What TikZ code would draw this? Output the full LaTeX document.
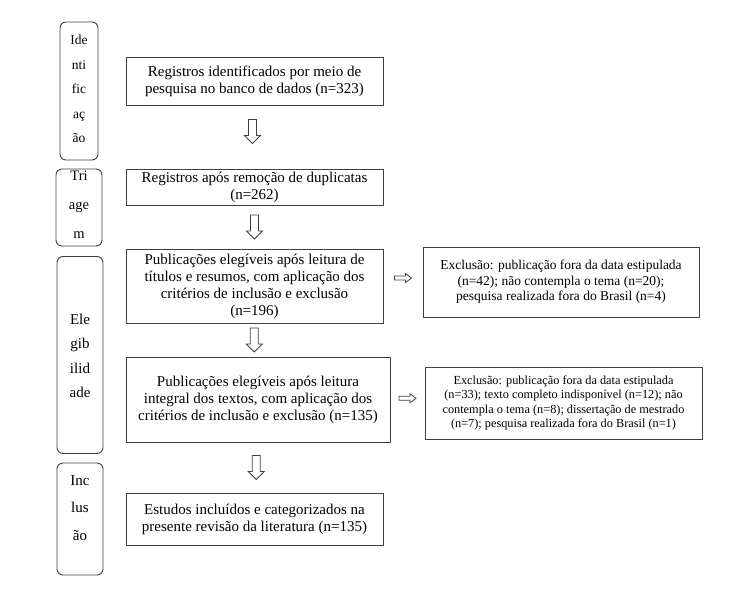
\documentclass[tikz,border=0pt]{standalone}
\usepackage{fontspec}
\setmainfont{Liberation Serif}
\usetikzlibrary{calc}

\tikzset{
  stagebox/.style={draw=black!75, line width=0.9pt, rounded corners=6pt, inner sep=0pt},
  stagetxt/.style={align=center, inner sep=0pt},
  mainbox/.style={draw=black!75, line width=1pt, align=center, inner sep=0pt,
    minimum width=257pt, font=\fontsize{15}{17}\selectfont},
  exclbox/.style={draw=black!75, line width=1pt, align=center, inner sep=0pt},
  downarr/.pic={\draw[black!75, line width=0.8pt] (-4,-12) -- (4,-12) -- (4,4) -- (8,4)
    -- (0,12) -- (-8,4) -- (-4,4) -- cycle;},
  sidearr/.pic={\draw[black!75, line width=0.8pt] (-8.5,-2) -- (2.5,-2) -- (2.5,-4.5)
    -- (8.5,0) -- (2.5,4.5) -- (2.5,2) -- (-8.5,2) -- cycle;}
}

\begin{document}
\begin{tikzpicture}[x=1pt, y=-1pt]

  \fill[white] (0,0) rectangle (755,595);

  % stages
  \node[stagebox, minimum width=38pt, minimum height=138pt] (sid) at (79,91) {};
  \node[stagebox, minimum width=46pt, minimum height=77pt] (stri) at (79,207.5) {};
  \node[stagebox, minimum width=46pt, minimum height=197pt] (sele) at (80,355) {};
  \node[stagebox, minimum width=46pt, minimum height=112pt] (sinc) at (80,519) {};

  \node[stagetxt, font=\fontsize{13.5}{24.5}\selectfont] (tid) at (79,89) {Ide\\nti\\fic\\aç\\ão};
  \node[stagetxt, font=\fontsize{14.5}{29}\selectfont] (ttri) at (79,205) {Tri\\age\\m};
  \node[stagetxt, font=\fontsize{15}{24.5}\selectfont] (tele) at (80,356) {Ele\\gib\\ilid\\ade};
  \node[stagetxt, font=\fontsize{15}{27.5}\selectfont] (tinc) at (80,508) {Inc\\lus\\ão};

  % main flow
  \node[mainbox, minimum height=48pt] (b1) at (254.5,81)
    {Registros identificados por meio de\\pesquisa no banco de dados (n=323)};
  \node[mainbox, minimum height=36pt] (b2) at (254.5,187)
    {Registros após remoção de duplicatas\\(n=262)};
  \node[mainbox, minimum height=74pt] (b3) at (254.5,286)
    {Publicações elegíveis após leitura de\\títulos e resumos, com aplicação dos\\critérios de inclusão e exclusão\\(n=196)};
  \node[mainbox, minimum width=264pt, minimum height=85pt] (b4) at (258,399.5)
    {Publicações elegíveis após leitura\\integral dos textos, com aplicação dos\\critérios de inclusão e exclusão (n=135)};
  \node[mainbox, minimum height=52pt] (b5) at (254.5,519)
    {Estudos incluídos e categorizados na\\presente revisão da literatura (n=135)};

  % exclusions
  \node[exclbox, minimum width=276pt, minimum height=70pt, font=\fontsize{13.5}{15.5}\selectfont] (x1) at (561,282)
    {Exclusão: publicação fora da data estipulada\\(n=42); não contempla o tema (n=20);\\pesquisa realizada fora do Brasil (n=4)};
  \node[exclbox, minimum width=277pt, minimum height=72pt, font=\fontsize{12.3}{14.5}\selectfont] (x2) at (563.5,403)
    {Exclusão: publicação fora da data estipulada\\(n=33); texto completo indisponível (n=12); não\\contempla o tema (n=8); dissertação de mestrado\\(n=7); pesquisa realizada fora do Brasil (n=1)};

  % arrows
  \pic at ($(b1.south)+(-2,26)$) {downarr};
  \pic at ($(b2.south)!0.5!(b3.north)$) {downarr};
  \pic at ($(b3.south)!0.5!(b4.north)+(-2,0)$) {downarr};
  \pic at ($(b4.south)!0.5!(b5.north)$) {downarr};
  \pic at ($(b3.east)!0.5!(x1.west)+(0,-6)$) {sidearr};
  \pic at ($(b4.east)!0.5!(x2.west)+(0,-3)$) {sidearr};

\end{tikzpicture}
\end{document}
